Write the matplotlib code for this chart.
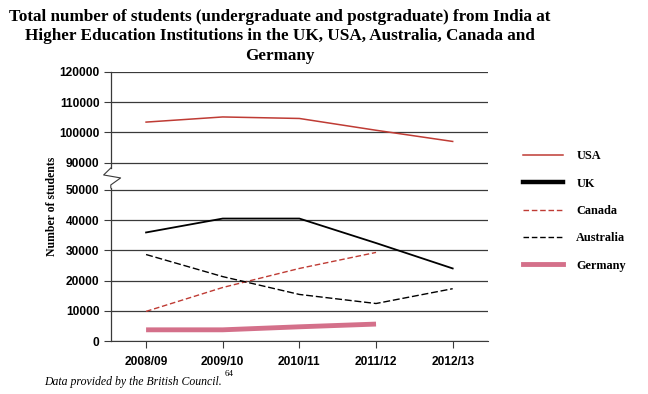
import numpy as np
import matplotlib
matplotlib.use("Agg")
import matplotlib.pyplot as plt
from matplotlib.lines import Line2D

# data
years = ["2008/09", "2009/10", "2010/11", "2011/12", "2012/13"]
usa = [103400, 105100, 104600, 100700, 97000]
uk = [35900, 40500, 40500, 32400, 24000]
canada = [9800, 17700, 24000, 29300]
australia = [28600, 21300, 15400, 12400, 17300]
germany = [3700, 3700, 4700, 5600]
yticks = [0, 10000, 20000, 30000, 40000, 50000, 90000, 100000, 110000, 120000]

RED = "#bf3b34"
PINK = "#d4708a"


# broken y axis: 50000..90000 squeezed into a small gap
def fwd(v):
    v = np.asarray(v, dtype=float)
    return np.where(v <= 50000, v / 10000,
                    np.where(v >= 90000, 5.9 + (v - 90000) / 10000,
                             5 + (v - 50000) / 40000 * 0.9))


def inv(d):
    d = np.asarray(d, dtype=float)
    return np.where(d <= 5, d * 10000,
                    np.where(d >= 5.9, 90000 + (d - 5.9) * 10000,
                             50000 + (d - 5) / 0.9 * 40000))


fig = plt.figure(figsize=(6.48, 3.94), dpi=100)
ax = fig.add_axes([0.171, 0.1345, 0.582, 0.683])

x = np.arange(len(years))
ax.plot(x, usa, color=RED, lw=1.1)
ax.plot(x, uk, color="black", lw=1.3)
ax.plot(x[:len(canada)], canada, color=RED, lw=1.0, dashes=(4, 2))
ax.plot(x, australia, color="black", lw=1.0, dashes=(5, 2))
ax.plot(x[:len(germany)], germany, color=PINK, lw=3.5, solid_capstyle="butt")

ax.set_yscale("function", functions=(fwd, inv))
ax.set_ylim(0, 120000)
ax.set_xlim(-0.46, 4.46)
ax.set_yticks(yticks)
ax.set_xticks(x)
ax.set_xticklabels(years)
ax.yaxis.grid(True, color="#3a3a3a", lw=0.9)
ax.set_axisbelow(True)

for s in ["top", "right", "left"]:
    ax.spines[s].set_visible(False)
ax.spines["bottom"].set_color("#3a3a3a")
ax.tick_params(axis="both", length=5, width=0.8, color="#3a3a3a", pad=3)
for lab in ax.get_xticklabels() + ax.get_yticklabels():
    lab.set_fontfamily("Liberation Sans")
    lab.set_fontweight("bold")
    lab.set_fontsize(8.6)
ax.tick_params(axis="x", pad=6)

# left spine with a zig-zag break
tr = ax.transAxes
ax.plot([0, 0], [0, 0.569], color="#3a3a3a", lw=0.9, transform=tr, clip_on=False)
ax.plot([0, 0], [0.643, 1], color="#3a3a3a", lw=0.9, transform=tr, clip_on=False)
ax.plot([0, -0.019, 0.026, 0, 0], [0.643, 0.617, 0.606, 0.58, 0.569],
        color="#3a3a3a", lw=0.8, transform=tr, clip_on=False)

ax.set_ylabel("Number of students", fontfamily="Liberation Serif",
              fontweight="bold", fontsize=8.5, labelpad=1)

fig.text(0.432, 0.978, "Total number of students (undergraduate and postgraduate) from India at\n"
         "Higher Education Institutions in the UK, USA, Australia, Canada and\nGermany",
         ha="center", va="top", fontfamily="Liberation Serif", fontweight="bold",
         fontsize=12.3, linespacing=1.3)

fig.text(0.068, 0.022, "Data provided by the British Council.", fontfamily="Liberation Serif",
         style="italic", fontsize=8.5)
fig.text(0.346, 0.045, "64", fontfamily="Liberation Serif", fontsize=6.5)

handles = [
    Line2D([], [], color=RED, lw=1.1),
    Line2D([], [], color="black", lw=3.2),
    Line2D([], [], color=RED, lw=1.0, dashes=(4, 2)),
    Line2D([], [], color="black", lw=1.0, dashes=(4, 2)),
    Line2D([], [], color=PINK, lw=3.5),
]
fig.legend(handles, ["USA", "UK", "Canada", "Australia", "Germany"],
           loc="center left", bbox_to_anchor=(0.797, 0.4645), frameon=False,
           prop={"family": "Liberation Serif", "weight": "bold", "size": 8.8},
           handlelength=3.3, handletextpad=1.1, labelspacing=1.25, borderpad=0)

fig.savefig("out.png", dpi=100)
